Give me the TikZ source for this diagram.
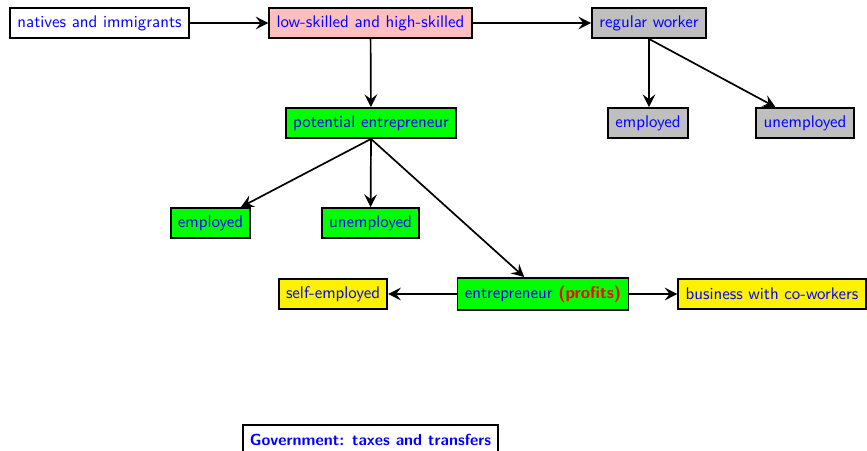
\documentclass[tikz,border=0pt]{standalone}
\usetikzlibrary{arrows.meta}
\renewcommand{\familydefault}{\sfdefault}
\begin{document}
\begin{tikzpicture}[x=0.592pt,y=-0.592pt,
  box/.style={draw, line width=1.1pt, text=blue, inner xsep=4.3pt, inner ysep=0pt,
              minimum height=30*0.592pt, anchor=center, font=\normalsize},
  flow/.style={line width=1pt, -{Stealth[length=7.5pt,width=7.5pt,inset=2.8pt]}}]
  \useasboundingbox (0,0) rectangle (867,451);

  % top row
  \node[box, fill=white]   (natives) at (99.5,23)  {natives and immigrants};
  \node[box, fill=red!25]  (skill)   at (370.5,23) {low-skilled and high-skilled};
  \node[box, fill=lightgray] (regular) at (649,23) {regular worker};

  % regular worker branch
  \node[box, fill=lightgray] (remp)   at (648,123) {employed};
  \node[box, fill=lightgray] (runemp) at (805,123) {unemployed};

  % potential entrepreneur branch
  \node[box, fill=green] (potential) at (371,123)   {potential entrepreneur};
  \node[box, fill=green] (pemp)      at (210.5,223) {employed};
  \node[box, fill=green] (punemp)    at (370.5,223) {unemployed};

  % entrepreneur outcomes
  \node[box, fill=green, minimum height=32*0.592pt] (entre) at (543,294)
       {entrepreneur \textcolor{red}{\textbf{(profits)}}};
  \node[box, fill=yellow] (self)     at (333,294) {self-employed};
  \node[box, fill=yellow] (business) at (772,294) {business with co-workers};

  % government
  \node[box, fill=white, font=\fontsize{9.5}{11}\selectfont\bfseries] (gov) at (370.5,440)
       {Government: taxes and transfers};

  % connectors
  \draw[flow] (natives) -- (skill);
  \draw[flow] (skill) -- (regular);
  \draw[flow] (skill) -- (potential);
  \draw[flow] (regular.south) -- (remp.north -| regular.south);
  \draw[flow] (regular.south) -- (runemp);
  \draw[flow] (potential.south) -- (pemp);
  \draw[flow] (potential.south) -- (punemp);
  \draw[flow] (potential.south) -- (entre);
  \draw[flow] (entre) -- (self);
  \draw[flow] (entre) -- (business);
\end{tikzpicture}
\end{document}
